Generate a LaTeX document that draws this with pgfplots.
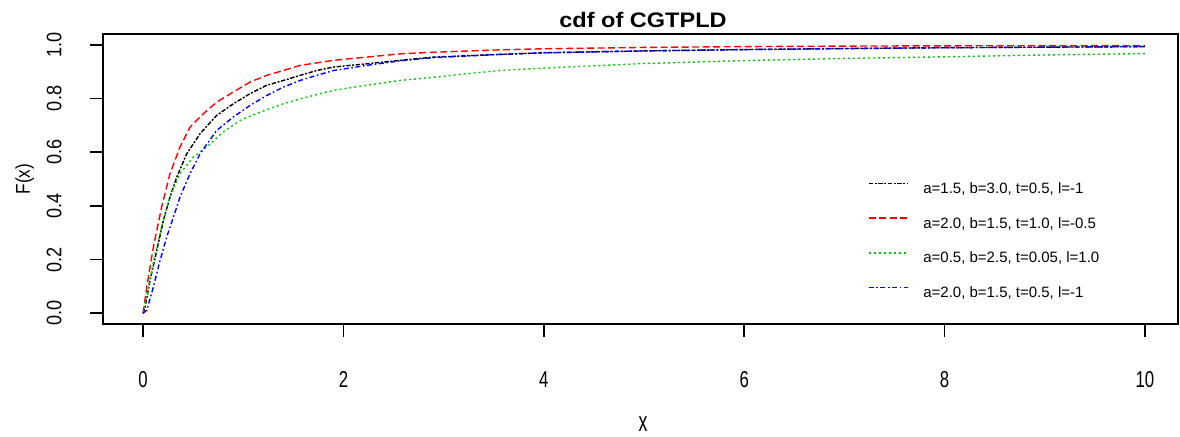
\documentclass[border=0pt]{standalone}
\usepackage{fontspec}
\setmainfont{Liberation Sans}
\newfontfamily\xfont{Liberation Sans}[FakeStretch=0.73]
\newfontfamily\xlabfont{Liberation Sans}[FakeStretch=0.63]
\newfontfamily\yfont{Liberation Sans}[FakeStretch=0.86]
\newfontfamily\titlefont{Liberation Sans}[FakeStretch=1.12]
\usepackage{pgfplots}
\pgfplotsset{compat=1.18}
\pgfplotstableread{
x y
0 0
0.02 0.023
0.07 0.123
0.137 0.234
0.203 0.346
0.269 0.433
0.336 0.507
0.436 0.594
0.569 0.669
0.735 0.737
0.901 0.780
1.068 0.818
1.234 0.849
1.40 0.867
1.567 0.886
1.733 0.904
1.90 0.917
2.23 0.929
2.565 0.942
2.90 0.954
3.56 0.964
4 0.970
5 0.977
6 0.982
7 0.986
8 0.989
9 0.991
10 0.993
}\blackdata
\pgfplotstableread{
x y
0 0
0.037 0.098
0.103 0.247
0.186 0.396
0.269 0.520
0.369 0.619
0.469 0.693
0.602 0.743
0.735 0.786
0.901 0.824
1.068 0.861
1.234 0.886
1.40 0.904
1.567 0.923
1.90 0.942
2.23 0.954
2.565 0.966
2.90 0.972
3.56 0.981
4 0.985
5 0.990
6 0.993
7 0.995
8 0.996
10 0.997
}\reddata
\pgfplotstableread{
x y
0 0
0.053 0.098
0.12 0.222
0.203 0.346
0.269 0.433
0.369 0.520
0.502 0.582
0.636 0.619
0.80 0.675
0.968 0.718
1.168 0.749
1.40 0.780
1.634 0.805
1.90 0.830
2.23 0.849
2.565 0.867
2.90 0.879
3.23 0.892
3.56 0.904
4 0.913
5 0.930
6 0.941
7 0.949
8 0.955
9 0.962
10 0.967
}\greendata
\pgfplotstableread{
x y
0 0
0.037 0.011
0.103 0.098
0.17 0.197
0.236 0.284
0.303 0.358
0.369 0.433
0.469 0.520
0.569 0.594
0.735 0.681
0.901 0.731
1.068 0.774
1.234 0.811
1.40 0.842
1.567 0.867
1.733 0.886
1.90 0.904
2.23 0.923
2.565 0.940
2.90 0.952
3.56 0.964
4 0.970
5 0.977
6 0.982
8 0.989
10 0.993
}\bluedata
\definecolor{rgreen}{RGB}{0,205,0}
\begin{document}
\begin{tikzpicture}
\begin{axis}[
  scale only axis, width=537.5pt, height=145pt,
  xmin=-0.4, xmax=10.33, ymin=-0.04, ymax=1.04,
  axis line style={line width=0.8pt},
  xtick={0,2,4,6,8,10}, xticklabels={0,2,4,6,8,10},
  ytick={0,0.2,0.4,0.6,0.8,1.0},
  yticklabels={0.0,0.2,0.4,0.6,0.8,1.0},
  xtick pos=lower, ytick pos=left,
  tick align=outside, major tick length=6.5pt,
  tick style={black, line width=0.8pt},
  xticklabel style={font=\xfont\fontsize{11.5}{12}\selectfont, inner sep=0pt, anchor=north},
  yticklabel style={font=\yfont\fontsize{10.5}{12}\selectfont, inner sep=0pt, rotate=90, anchor=south},
  xticklabel shift=17.2pt,
  yticklabel shift=14pt,
  /pgf/number format/assume math mode=true,
  clip=false,
  legend cell align=left,
  legend style={draw=none, fill=none, at={(0.7116,0.488)}, anchor=north west,
    inner sep=0pt, outer sep=0pt, row sep=10.33pt, column sep=7.5pt,
    font=\fontsize{7.5}{9}\selectfont,
    nodes={inner sep=0pt, text height=5.5pt, text depth=1.5pt}},
  legend image code/.code={\draw[#1] (0pt,3pt) -- (19.5pt,3pt);},
]
\addplot[black, line width=0.7pt, dash pattern=on 2.2pt off 0.8pt on 1pt off 0.8pt] table[x=x,y=y]{\blackdata};
\addlegendentry{a=1.5, b=3.0, t=0.5, l=-1}
\addplot[red, line width=0.7pt, dash pattern=on 3.5pt off 1.75pt] table[x=x,y=y]{\reddata};
\addlegendentry{a=2.0, b=1.5, t=1.0, l=-0.5}
\addplot[rgreen, line width=0.7pt, dash pattern=on 1pt off 1.5pt] table[x=x,y=y]{\greendata};
\addlegendentry{a=0.5, b=2.5, t=0.05, l=1.0}
\addplot[blue, line width=0.7pt, dash pattern=on 2.5pt off 1.3pt on 0.8pt off 1.3pt] table[x=x,y=y]{\bluedata};
\addlegendentry{a=2.0, b=1.5, t=0.5, l=-1}
\end{axis}
\node[anchor=base, inner sep=0pt, font=\titlefont\bfseries\fontsize{10.5}{12}\selectfont] at (270pt,148.3pt) {cdf of CGTPLD};
\node[anchor=base, inner sep=0pt, font=\xlabfont\fontsize{14}{16}\selectfont] at (270pt,-53.8pt) {x};
\node[anchor=base, inner sep=0pt, rotate=90, font=\yfont\fontsize{10}{12}\selectfont] at (-36.5pt,72.5pt) {F(x)};
\pgfresetboundingbox
\path[use as bounding box] (-51.5pt,-56pt) rectangle (538.5pt,162pt);
\end{tikzpicture}
\end{document}
